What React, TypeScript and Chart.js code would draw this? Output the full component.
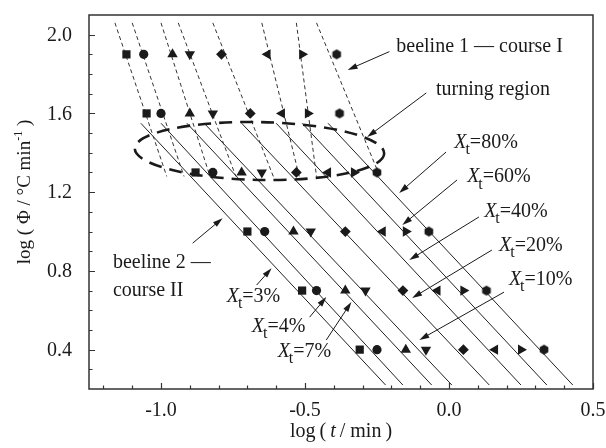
import React, { useEffect, useRef } from 'react';
import { Chart, registerables } from 'chart.js';

Chart.register(...registerables);

// log of heating rate (rows of markers)
const logPhi = [1.9, 1.6, 1.3, 1.0, 0.7, 0.4];

// conversion levels, one marker type each
const conversions = ['3%', '4%', '7%', '10%', '20%', '40%', '60%', '80%'];

// log(t / min) at each heating rate, per conversion level
const logT3 = [-1.12, -1.05, -0.88, -0.70, -0.51, -0.31];
const logT4 = [-1.06, -1.0, -0.82, -0.64, -0.46, -0.25];
const logT7 = [-0.96, -0.9, -0.72, -0.54, -0.36, -0.15];
const logT10 = [-0.9, -0.82, -0.65, -0.48, -0.29, -0.08];
const logT20 = [-0.79, -0.69, -0.53, -0.36, -0.16, 0.05];
const logT40 = [-0.63, -0.58, -0.42, -0.23, -0.04, 0.16];
const logT60 = [-0.51, -0.49, -0.33, -0.15, 0.05, 0.25];
const logT80 = [-0.39, -0.38, -0.25, -0.07, 0.13, 0.33];

// beeline 1 (course I, dashed): log t at the upper and lower ends
const courseIPhi = [2.06, 1.28];
const courseIStart = [-1.16, -1.1, -1.0, -0.94, -0.82, -0.65, -0.53, -0.46];
const courseIEnd = [-0.98, -0.92, -0.83, -0.74, -0.61, -0.52, -0.46, -0.24];

// beeline 2 (course II, solid): log t at the upper and lower ends
const courseIIPhi = [1.55, 0.22];
const courseIIStart = [-1.07, -1.0, -0.91, -0.85, -0.72, -0.6, -0.51, -0.42];
const courseIIEnd = [-0.22, -0.16, -0.06, 0.01, 0.14, 0.25, 0.34, 0.43];

// axis ticks
const xTickLabels = [-1.0, -0.5, 0.0, 0.5];
const yTickLabels = [2.0, 1.6, 1.2, 0.8, 0.4];

const FONT = '"Liberation Serif", "Times New Roman", serif';
const INK = '#1a1a1a';

function hexagonImage(r: number): HTMLCanvasElement {
  const size = Math.ceil(r * 2 + 2);
  const c = document.createElement('canvas');
  c.width = size;
  c.height = size;
  const g = c.getContext('2d')!;
  g.fillStyle = INK;
  g.beginPath();
  for (let k = 0; k < 6; k++) {
    const a = -Math.PI / 2 + (k * Math.PI) / 3;
    const px = size / 2 + r * Math.cos(a);
    const py = size / 2 + r * Math.sin(a);
    if (k === 0) g.moveTo(px, py);
    else g.lineTo(px, py);
  }
  g.closePath();
  g.fill();
  return c;
}

function drawArrow(ctx: CanvasRenderingContext2D, x1: number, y1: number, x2: number, y2: number) {
  const ang = Math.atan2(y2 - y1, x2 - x1);
  const head = 10;
  const half = 3;
  ctx.beginPath();
  ctx.moveTo(x1, y1);
  ctx.lineTo(x2 - Math.cos(ang) * head * 0.7, y2 - Math.sin(ang) * head * 0.7);
  ctx.stroke();
  ctx.beginPath();
  ctx.moveTo(x2, y2);
  ctx.lineTo(x2 - head * Math.cos(ang) + half * Math.sin(ang), y2 - head * Math.sin(ang) - half * Math.cos(ang));
  ctx.lineTo(x2 - head * Math.cos(ang) - half * Math.sin(ang), y2 - head * Math.sin(ang) + half * Math.cos(ang));
  ctx.closePath();
  ctx.fill();
}

function drawXt(ctx: CanvasRenderingContext2D, px: number, py: number, pct: string, size: number) {
  ctx.textAlign = 'left';
  ctx.textBaseline = 'alphabetic';
  ctx.font = `italic ${size}px ${FONT}`;
  ctx.fillText('X', px, py);
  let w = ctx.measureText('X').width - 1;
  ctx.font = `${Math.round(size * 0.78)}px ${FONT}`;
  ctx.fillText('t', px + w, py + size * 0.32);
  w += ctx.measureText('t').width;
  ctx.font = `${size}px ${FONT}`;
  ctx.fillText('=' + pct, px + w, py);
}

// annotation layout, in data units (log t, log Φ)
const conversionNotes = [
  { pct: '80%', at: [0.018, 1.424], from: [-0.01, 1.404], to: [-0.173, 1.196] },
  { pct: '60%', at: [0.063, 1.251], from: [0.028, 1.262], to: [-0.162, 1.033] },
  { pct: '40%', at: [0.122, 1.074], from: [0.104, 1.074], to: [-0.138, 0.855] },
  { pct: '20%', at: [0.174, 0.901], from: [0.149, 0.906], to: [-0.128, 0.662] },
  { pct: '10%', at: [0.208, 0.728], from: [0.191, 0.692], to: [-0.103, 0.449] },
  { pct: '3%', at: [-0.772, 0.643], from: [-0.668, 0.728], to: [-0.616, 0.814] },
  { pct: '4%', at: [-0.685, 0.491], from: [-0.484, 0.565], to: [-0.426, 0.667] },
  { pct: '7%', at: [-0.595, 0.364], from: [-0.426, 0.449], to: [-0.339, 0.642] },
];

const textNotes = [
  { lines: ['beeline 1 \u2014 course I'], at: [-0.183, 1.912], from: [-0.207, 1.914], to: [-0.352, 1.821] },
  { lines: ['turning region'], at: [-0.045, 1.693], from: [-0.079, 1.704], to: [-0.284, 1.48] },
  { lines: ['beeline 2 \u2014', 'course II'], at: [-1.167, 0.814], from: [-0.89, 0.941], to: [-0.786, 1.068] },
];

// turning region outline: centre, half-axes (data units)
const turningCentre = [-0.658, 1.409];
const turningHalfAxes = [0.433, 0.147];

const overlay = {
  id: 'overlay',
  afterDraw(chart: any) {
    const { ctx, chartArea: a, scales } = chart;
    const xs = scales.x;
    const ys = scales.y;
    const X = (v: number) => xs.getPixelForValue(v);
    const Y = (v: number) => ys.getPixelForValue(v);
    ctx.save();

    // turning region
    ctx.strokeStyle = INK;
    ctx.lineWidth = 2.6;
    ctx.setLineDash([13, 8]);
    ctx.beginPath();
    const cx = X(turningCentre[0]);
    const cy = Y(turningCentre[1]);
    const rx = X(turningCentre[0] + turningHalfAxes[0]) - cx;
    const ry = cy - Y(turningCentre[1] + turningHalfAxes[1]);
    ctx.ellipse(cx, cy, rx, ry, 0.02, 0, Math.PI * 2);
    ctx.stroke();
    ctx.setLineDash([]);

    // frame
    ctx.strokeStyle = '#333';
    ctx.lineWidth = 1.5;
    ctx.strokeRect(a.left, a.top, a.right - a.left, a.bottom - a.top);

    // inward ticks
    ctx.lineWidth = 1.2;
    ctx.beginPath();
    for (let i = -12; i <= 5; i++) {
      const px = Math.round(X(i / 10)) + 0.5;
      const len = i % 5 === 0 ? 6 : 3.5;
      ctx.moveTo(px, a.bottom);
      ctx.lineTo(px, a.bottom - len);
    }
    for (let i = 3; i <= 20; i++) {
      const py = Math.round(Y(i / 10)) + 0.5;
      const len = i % 4 === 0 ? 6 : 3.5;
      ctx.moveTo(a.left, py);
      ctx.lineTo(a.left + len, py);
    }
    ctx.stroke();

    // tick labels
    ctx.fillStyle = INK;
    ctx.font = `20px ${FONT}`;
    ctx.textAlign = 'center';
    ctx.textBaseline = 'alphabetic';
    xTickLabels.forEach((v) => ctx.fillText(v.toFixed(1), X(v), a.bottom + 27));
    ctx.textAlign = 'right';
    ctx.textBaseline = 'middle';
    yTickLabels.forEach((v) => ctx.fillText(v.toFixed(1), a.left - 17, Y(v) + 1));

    // x title
    ctx.textBaseline = 'alphabetic';
    ctx.textAlign = 'left';
    const xt1 = 'log\u2009(\u2009';
    const xt2 = 't';
    const xt3 = '\u2009/ min\u2009)';
    ctx.font = `20px ${FONT}`;
    const w1 = ctx.measureText(xt1).width;
    const w3 = ctx.measureText(xt3).width;
    ctx.font = `italic 20px ${FONT}`;
    const w2 = ctx.measureText(xt2).width;
    let tx = (a.left + a.right) / 2 - (w1 + w2 + w3) / 2;
    const tb = a.bottom + 48;
    ctx.font = `20px ${FONT}`;
    ctx.fillText(xt1, tx, tb);
    ctx.font = `italic 20px ${FONT}`;
    ctx.fillText(xt2, tx + w1, tb);
    ctx.font = `20px ${FONT}`;
    ctx.fillText(xt3, tx + w1 + w2, tb);

    // y title, rotated
    ctx.save();
    ctx.translate(30, (a.top + a.bottom) / 2 - 10);
    ctx.rotate(-Math.PI / 2);
    const yt1 = 'log ( \u03A6 / \u00B0C min';
    const yt2 = '-1';
    const yt3 = ' )';
    ctx.font = `19px ${FONT}`;
    const v1 = ctx.measureText(yt1).width;
    const v3 = ctx.measureText(yt3).width;
    ctx.font = `12px ${FONT}`;
    const v2 = ctx.measureText(yt2).width;
    const start = -(v1 + v2 + v3) / 2;
    ctx.font = `19px ${FONT}`;
    ctx.fillText(yt1, start, 0);
    ctx.font = `12px ${FONT}`;
    ctx.fillText(yt2, start + v1, -8);
    ctx.font = `19px ${FONT}`;
    ctx.fillText(yt3, start + v1 + v2, 0);
    ctx.restore();

    // annotations
    ctx.strokeStyle = INK;
    ctx.fillStyle = INK;
    ctx.lineWidth = 1;
    ctx.textAlign = 'left';
    ctx.textBaseline = 'alphabetic';
    textNotes.forEach((n) => {
      ctx.font = `20px ${FONT}`;
      n.lines.forEach((line, k) => ctx.fillText(line, X(n.at[0]), Y(n.at[1]) + k * 28));
      drawArrow(ctx, X(n.from[0]), Y(n.from[1]), X(n.to[0]), Y(n.to[1]));
    });
    conversionNotes.forEach((n) => {
      drawXt(ctx, X(n.at[0]), Y(n.at[1]), n.pct, 20);
      drawArrow(ctx, X(n.from[0]), Y(n.from[1]), X(n.to[0]), Y(n.to[1]));
    });

    ctx.restore();
  },
};

export default function App() {
  const canvasRef = useRef<HTMLCanvasElement | null>(null);

  useEffect(() => {
    const canvas = canvasRef.current;
    if (!canvas) return;

    const seriesLogT = [logT3, logT4, logT7, logT10, logT20, logT40, logT60, logT80];
    const markerStyle: any[] = ['rect', 'circle', 'triangle', 'triangle', 'rectRot', 'triangle', 'triangle', hexagonImage(5)];
    const markerRotation = [0, 0, 0, 180, 0, -90, 90, 0];
    const markerRadius = [5.8, 4.6, 6, 6, 5.4, 6, 6, 5];

    const datasets: any[] = [];
    seriesLogT.forEach((xs, i) => {
      datasets.push({
        label: `Xt=${conversions[i]}`,
        data: logPhi.map((y, j) => ({ x: xs[j], y })),
        showLine: false,
        pointStyle: markerStyle[i],
        rotation: markerRotation[i],
        pointRadius: markerRadius[i],
        backgroundColor: INK,
        borderColor: INK,
        borderWidth: 0,
        order: 0,
      });
      datasets.push({
        label: `course I ${conversions[i]}`,
        data: [
          { x: courseIStart[i], y: courseIPhi[0] },
          { x: courseIEnd[i], y: courseIPhi[1] },
        ],
        showLine: true,
        borderColor: '#333',
        borderWidth: 1,
        borderDash: [4, 3],
        pointRadius: 0,
        order: 1,
      });
      datasets.push({
        label: `course II ${conversions[i]}`,
        data: [
          { x: courseIIStart[i], y: courseIIPhi[0] },
          { x: courseIIEnd[i], y: courseIIPhi[1] },
        ],
        showLine: true,
        borderColor: '#222',
        borderWidth: 1,
        pointRadius: 0,
        order: 1,
      });
    });

    const chart = new Chart(canvas, {
      type: 'scatter',
      data: { datasets },
      options: {
        animation: false,
        responsive: false,
        maintainAspectRatio: false,
        layout: { padding: { left: 89, right: 13, top: 15, bottom: 59 } },
        scales: {
          x: { type: 'linear', min: -1.25, max: 0.5, display: false },
          y: { type: 'linear', min: 0.2, max: 2.1, display: false },
        },
        plugins: { legend: { display: false }, tooltip: { enabled: false } },
      },
      plugins: [overlay],
    });

    return () => chart.destroy();
  }, []);

  return (
    <div style={{ position: 'fixed', left: 0, top: 0, width: 606, height: 448, background: '#fff' }}>
      <canvas ref={canvasRef} width={606} height={448} style={{ width: 606, height: 448, display: 'block' }} />
    </div>
  );
}
